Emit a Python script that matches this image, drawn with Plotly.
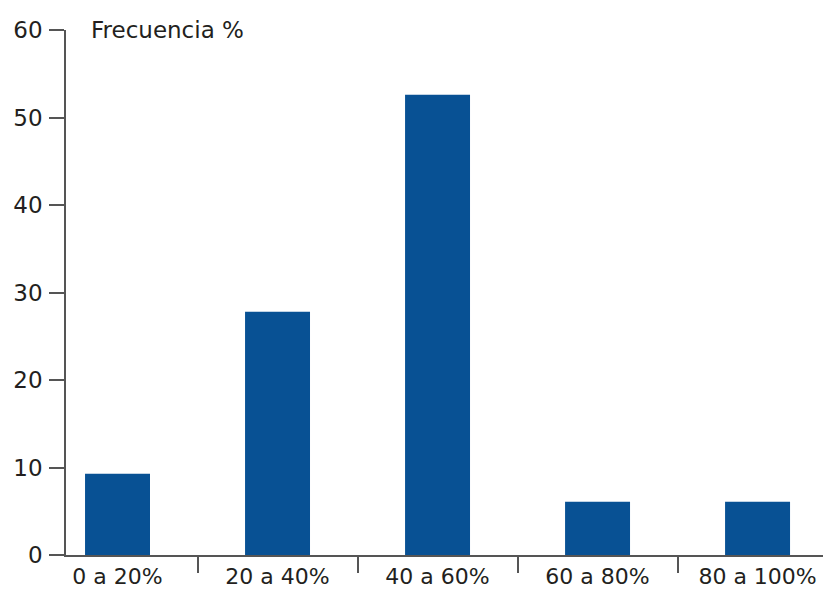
import plotly.graph_objects as go

categories = ["0 a 20%", "20 a 40%", "40 a 60%", "60 a 80%", "80 a 100%"]
frecuencia = [9.3, 27.8, 52.6, 6.1, 6.1]
y_ticks = [0, 10, 20, 30, 40, 50, 60]
title_text = "Frecuencia %"

pos = list(range(len(categories)))
separators = [p + 0.5 for p in pos[:-1]]

fig = go.Figure()
fig.add_trace(go.Bar(
    x=pos, y=frecuencia, width=0.406,
    marker=dict(color="#085194", line=dict(width=0)),
    hoverinfo="skip",
))

font_family = "DejaVu Sans, sans-serif"
txt = "#231f20"
fig.update_layout(
    width=826, height=590,
    margin=dict(l=66, r=3, t=30, b=35, autoexpand=False),
    paper_bgcolor="white", plot_bgcolor="white",
    showlegend=False,
    font=dict(family=font_family, size=22, color=txt),
    xaxis=dict(
        range=[-0.322, 4.409],
        tickvals=pos, ticktext=categories,
        ticks="", showgrid=False, zeroline=False,
        showline=True, linecolor="#555555", linewidth=1.5,
        tickfont=dict(family=font_family, size=22, color=txt),
        ticklabelstandoff=1,
        minor=dict(tickvals=separators, ticks="outside", ticklen=16,
                   tickwidth=1.5, tickcolor="#555555", showgrid=False),
        automargin=False,
        fixedrange=True,
    ),
    yaxis=dict(
        range=[0, 60],
        tickvals=y_ticks,
        ticks="outside", ticklen=15, tickwidth=1.5, tickcolor="#555555",
        showgrid=False, zeroline=False,
        showline=True, linecolor="#555555", linewidth=1.5,
        tickfont=dict(family=font_family, size=23, color=txt),
        ticklabelstandoff=2,
        automargin=False,
        fixedrange=True,
    ),
    annotations=[dict(
        text=title_text, xref="paper", yref="paper",
        x=0.031, y=1.0, xanchor="left", yanchor="middle",
        showarrow=False, font=dict(family=font_family, size=23, color=txt),
    )],
)

fig.write_html(
    "out.html",
    config={"displayModeBar": False},
    post_script="document.body.style.margin='0';document.body.style.padding='0';",
)
